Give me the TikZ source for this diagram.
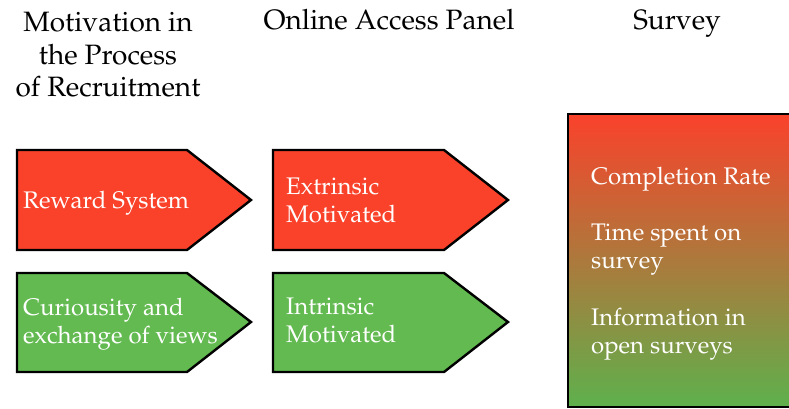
\documentclass[tikz,border=0pt]{standalone}
\usepackage[T1]{fontenc}
\usepackage{mathpazo}
\definecolor{redc}{RGB}{250,66,43}
\definecolor{greenc}{RGB}{99,186,81}
\tikzset{
  arrowbox/.style={draw=black, line width=2.4pt, miter limit=10},
  head/.style={font=\fontsize{28}{32.5}\selectfont, inner sep=0pt, align=center, anchor=base},
  label/.style={font=\fontsize{24}{27.6}\selectfont, text=white, inner sep=0pt, align=left, anchor=base west},
}
\begin{document}
\begin{tikzpicture}[x=1pt,y=-1pt]
\useasboundingbox (0,0) rectangle (789,409);

% column headings (multi-line nodes sit on their last baseline)
\node[head] (h1) at (108,97) {Motivation in\\the Process\\of Recruitment};
\node[head] (h2) at (389,30) {Online Access Panel};
\node[head] (h3) at (677,30) {Survey};

% pentagon arrows
\draw[arrowbox, fill=redc]   (17,150) -- (187,150) -- (251,200) -- (187,250) -- (17,250) -- cycle;
\draw[arrowbox, fill=greenc] (17,273) -- (187,273) -- (251,322) -- (187,372) -- (17,372) -- cycle;
\draw[arrowbox, fill=redc]   (273,150) -- (444,150) -- (508,200) -- (444,250) -- (273,250) -- cycle;
\draw[arrowbox, fill=greenc] (273,273) -- (444,273) -- (508,322) -- (444,372) -- (273,372) -- cycle;

\node[label] (a1) at (23,208) {Reward System};
\node[label] (a2) at (23,343) {Curiousity and\\exchange of views};
\node[label] (b1) at (286,222) {Extrinsic\\Motivated};
\node[label] (b2) at (286,342) {Intrinsic\\Motivated};

% survey panel with red-to-green shading
\shade[top color=redc, bottom color=greenc!95!black] (568,114) rectangle (800,407);
\draw[line width=2.4pt] (800,114) -- (568,114) -- (568,407) -- (800,407);

\node[label] (c1) at (591,184) {Completion Rate};
\node[label] (c2) at (591,268) {Time spent on\\survey};
\node[label] (c3) at (591,353) {Information in\\open surveys};
\end{tikzpicture}
\end{document}
